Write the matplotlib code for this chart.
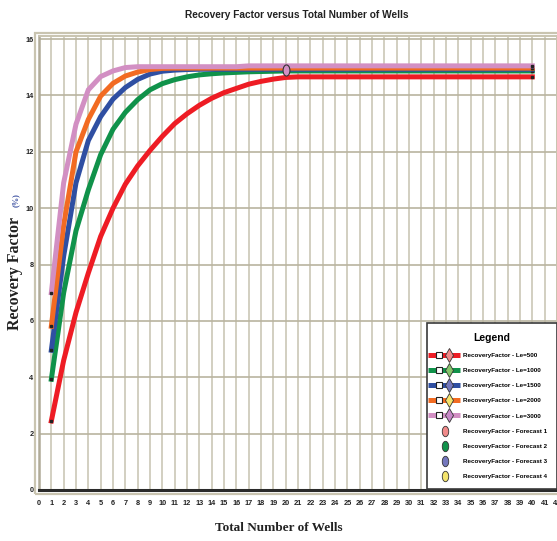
import matplotlib
matplotlib.use('Agg')
import matplotlib.pyplot as plt
from matplotlib.lines import Line2D
from matplotlib.markers import MarkerStyle
from matplotlib.transforms import Affine2D
from matplotlib.patches import Rectangle
from matplotlib.legend_handler import HandlerBase


# x = total number of wells, 1..40
wells = list(range(1, 41))

# recovery factor (%)
rf_le500 = [2.45, 4.6, 6.3, 7.7, 9.0, 10.0, 10.85, 11.5, 12.05, 12.55,
            13.0, 13.35, 13.65, 13.9, 14.1, 14.25, 14.4, 14.5, 14.58, 14.64,
            14.66, 14.66, 14.66, 14.66, 14.66, 14.66, 14.66, 14.66, 14.66, 14.66,
            14.66, 14.66, 14.66, 14.66, 14.66, 14.66, 14.66, 14.66, 14.66, 14.66]
rf_le1000 = [3.93, 7.0, 9.2, 10.65, 11.9, 12.8, 13.4, 13.85, 14.2, 14.42,
             14.56, 14.66, 14.73, 14.77, 14.8, 14.82, 14.84, 14.85, 14.86, 14.87,
             14.87, 14.87, 14.87, 14.87, 14.87, 14.87, 14.87, 14.87, 14.87, 14.87,
             14.87, 14.87, 14.87, 14.87, 14.87, 14.87, 14.87, 14.87, 14.87, 14.87]
rf_le1500 = [4.96, 8.3, 10.9, 12.4, 13.25, 13.87, 14.28, 14.57, 14.76, 14.86,
             14.9, 14.92, 14.93, 14.93, 14.93, 14.93, 14.93, 14.93, 14.93, 14.93,
             14.93, 14.93, 14.93, 14.93, 14.93, 14.93, 14.93, 14.93, 14.93, 14.93,
             14.93, 14.93, 14.93, 14.93, 14.93, 14.93, 14.93, 14.93, 14.93, 14.93]
rf_le2000 = [5.81, 9.4, 12.0, 13.15, 13.98, 14.43, 14.69, 14.83, 14.92, 14.96,
             14.97, 14.97, 14.97, 14.97, 14.97, 14.97, 14.97, 14.97, 14.97, 14.97,
             14.97, 14.97, 14.97, 14.97, 14.97, 14.97, 14.97, 14.97, 14.97, 14.97,
             14.97, 14.97, 14.97, 14.97, 14.97, 14.97, 14.97, 14.97, 14.97, 14.97]
rf_le3000 = [7.0, 10.9, 12.98, 14.2, 14.67, 14.87, 14.99, 15.02, 15.02, 15.02,
             15.02, 15.02, 15.02, 15.02, 15.02, 15.02, 15.05, 15.05, 15.05, 15.05,
             15.05, 15.05, 15.05, 15.05, 15.05, 15.05, 15.05, 15.05, 15.05, 15.05,
             15.05, 15.05, 15.05, 15.05, 15.05, 15.05, 15.05, 15.05, 15.05, 15.05]

series_labels = ['RecoveryFactor - Le=500', 'RecoveryFactor - Le=1000',
                 'RecoveryFactor - Le=1500', 'RecoveryFactor - Le=2000',
                 'RecoveryFactor - Le=3000']
forecast_labels = ['RecoveryFactor - Forecast 1', 'RecoveryFactor - Forecast 2',
                   'RecoveryFactor - Forecast 3', 'RecoveryFactor - Forecast 4']

# forecast point shown on the chart
forecast_x = [20]
forecast_y = [14.9]

line_colors = ['#ee1c24', '#10924a', '#2f4fa2', '#f26b22', '#d28fc3']
diamond_colors = ['#f08a8a', '#86c46a', '#7477bd', '#f4e46c', '#c888c8']
forecast_colors = ['#f08a8a', '#10924a', '#7477bd', '#f4e46c']

SANS = ['Liberation Sans', 'DejaVu Sans']
SERIF = ['Liberation Serif', 'DejaVu Serif']

ELLIPSE = MarkerStyle('o', transform=Affine2D().scale(0.62, 1.0))


class SeriesHandler(HandlerBase):
    """ legend handle: thick line + white square + diamond, or lone ellipse """

    def create_artists(self, legend, orig_handle, xdescent, ydescent,
                       width, height, fontsize, trans):
        y = height / 2 - ydescent
        x0 = -xdescent
        arts = []
        if orig_handle.get_linestyle() not in ('None', 'none', ''):
            # line runs out to the legend border on the left
            arts.append(Line2D([x0 - 6.5, x0 + width], [y, y],
                               color=orig_handle.get_color(), lw=3.6,
                               solid_capstyle='butt', transform=trans))
            arts.append(Line2D([x0 + width * 0.1], [y], marker='s', ms=4.5,
                               mfc='white', mec='#222222', mew=0.8,
                               transform=trans))
            arts.append(Line2D([x0 + width * 0.52], [y], marker='d', ms=7,
                               mfc=orig_handle.get_markerfacecolor(),
                               mec='#333333', mew=0.6, transform=trans))
        else:
            arts.append(Line2D([x0 + width * 0.38], [y], marker=ELLIPSE, ms=7.5,
                               mfc=orig_handle.get_markerfacecolor(),
                               mec='#333333', mew=0.6, transform=trans))
        return arts


fig = plt.figure(figsize=(5.57, 5.41), dpi=100)
ax = fig.add_axes([39 / 557, 1 - 490 / 541, 1 - 39 / 557, (490 - 36) / 541])

# outer beige frame
fig.patches.append(Rectangle((35 / 557, 1 - 494 / 541), 1.0, (494 - 33) / 541,
                             transform=fig.transFigure, fill=False,
                             edgecolor='#c9c4b0', lw=1.6, zorder=0))

ax.set_xlim(0, 42)
ax.set_ylim(0, 16.11)
ax.set_xticks(range(0, 43))
ax.set_yticks(range(0, 17, 2))
ax.grid(axis='x', color='#cfcbbc', lw=1.3)
ax.grid(axis='y', color='#b9b4a0', lw=1.2)
ax.set_axisbelow(True)

for spine in ['top', 'right']:
    ax.spines[spine].set_color('#c9c4b0')
    ax.spines[spine].set_linewidth(1.4)
ax.spines['left'].set_color('#b0ab98')
ax.spines['left'].set_linewidth(1.8)
ax.spines['bottom'].set_color('#2a2a2a')
ax.spines['bottom'].set_linewidth(2.2)

ax.tick_params(length=0, labelsize=5.3)
ax.tick_params(axis='x', pad=7)
ax.tick_params(axis='y', pad=4)
for lab in ax.get_xticklabels() + ax.get_yticklabels():
    lab.set_family(SANS)
    lab.set_fontweight('bold')
    lab.set_color('#222222')

all_series = [rf_le500, rf_le1000, rf_le1500, rf_le2000, rf_le3000]
for vals, col in zip(all_series, line_colors):
    ax.plot(wells, vals, color=col, lw=3.6, solid_joinstyle='miter',
            marker='s', ms=2, mfc='#222222', mec='#222222',
            markevery=[0, len(vals) - 1], zorder=3)

ax.plot(forecast_x, forecast_y, ls='none', marker=ELLIPSE, ms=8,
        mfc=line_colors[4], mec='#333333', mew=0.8, zorder=5)

# legend
handles = []
for col, dcol in zip(line_colors, diamond_colors):
    handles.append(Line2D([], [], color=col, mfc=dcol))
for fcol in forecast_colors:
    handles.append(Line2D([], [], ls='none', mfc=fcol))
leg = ax.legend(handles, series_labels + forecast_labels,
                handler_map={Line2D: SeriesHandler()},
                loc='upper left', bbox_to_anchor=(427 / 557, 1 - 323 / 541),
                bbox_transform=fig.transFigure, borderaxespad=0,
                prop={'family': SANS, 'weight': 'bold', 'size': 4.5},
                title='Legend',
                title_fontproperties={'family': SANS, 'weight': 'bold', 'size': 7.5},
                handlelength=3.7, handletextpad=0.5, labelspacing=1.57,
                borderpad=1.55, fancybox=False, framealpha=1)
leg.get_frame().set_edgecolor('#3a3a3a')
leg.get_frame().set_linewidth(1.2)
leg.set_zorder(10)

fig.text(297 / 557, 1 - 15 / 541, 'Recovery Factor versus Total Number of Wells',
         ha='center', va='center', family=SANS, weight='bold', size=7.3,
         color='#222222')
fig.text(279 / 557, 1 - 528 / 541, 'Total Number of Wells',
         ha='center', va='center', family=SERIF, weight='bold', size=9.5,
         color='#222222')
fig.text(15 / 557, 1 - 273 / 541, 'Recovery Factor', rotation=90,
         ha='center', va='center', family=SERIF, weight='bold', size=11.5,
         color='#222222')
fig.text(16 / 557, 1 - 200 / 541, '(%)', rotation=90,
         ha='center', va='center', family=SERIF, weight='bold', size=6,
         color='#3b4fa0')

fig.savefig('out.png', dpi=100)
